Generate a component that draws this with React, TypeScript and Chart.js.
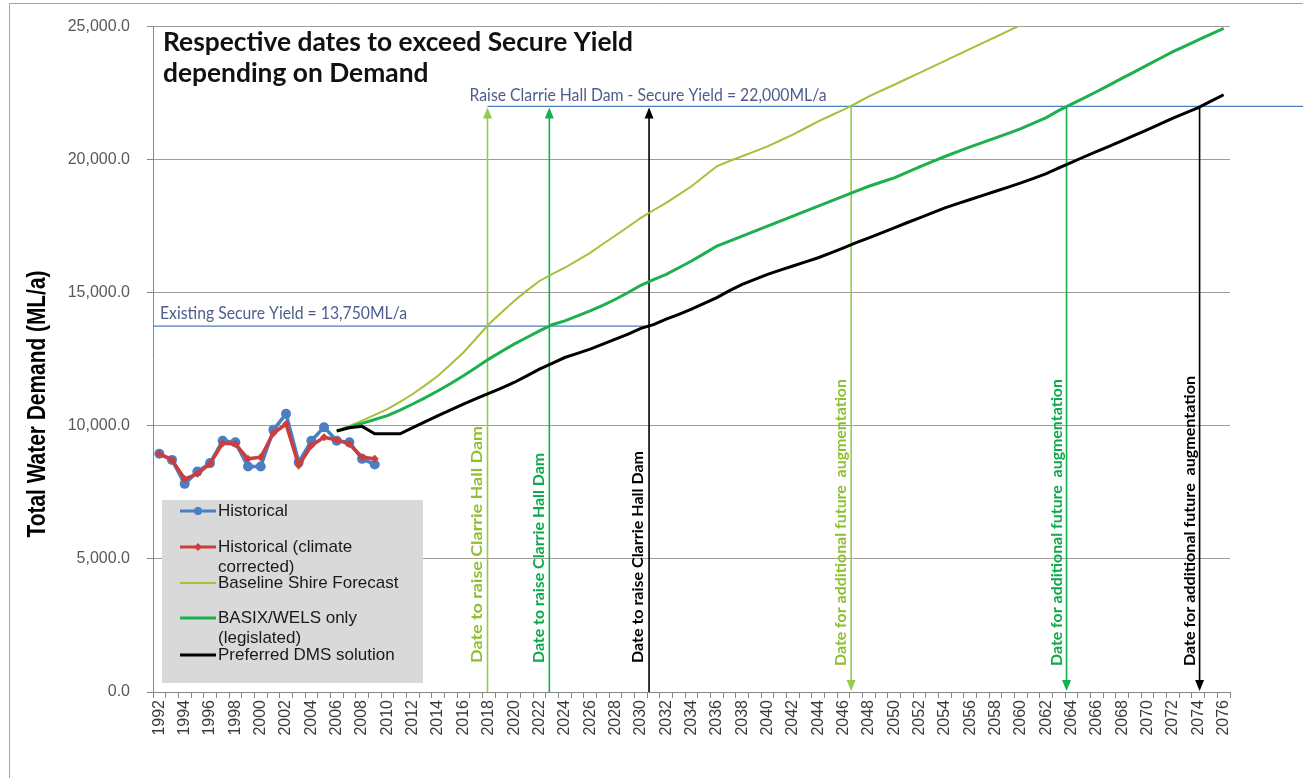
import React, { useEffect, useRef } from 'react';
import { Chart, registerables } from 'chart.js';

Chart.register(...registerables);

// ---------- DATA ----------
const years = [
  '1992','1993','1994','1995','1996','1997','1998','1999','2000','2001',
  '2002','2003','2004','2005','2006','2007','2008','2009','2010','2011',
  '2012','2013','2014','2015','2016','2017','2018','2019','2020','2021',
  '2022','2023','2024','2025','2026','2027','2028','2029','2030','2031',
  '2032','2033','2034','2035','2036','2037','2038','2039','2040','2041',
  '2042','2043','2044','2045','2046','2047','2048','2049','2050','2051',
  '2052','2053','2054','2055','2056','2057','2058','2059','2060','2061',
  '2062','2063','2064','2065','2066','2067','2068','2069','2070','2071',
  '2072','2073','2074','2075','2076'
];

// 1992 - 2009
const historical = [8950, 8720, 7820, 8280, 8600, 9440, 9380, 8470, 8470, 9850, 10450, 8630, 9440, 9950, 9440, 9380, 8760, 8550];
const historicalClimate = [8950, 8720, 8000, 8200, 8570, 9350, 9320, 8760, 8820, 9720, 10070, 8510, 9260, 9570, 9470, 9320, 8820, 8760];

// forecasts start in 2006
const forecastStart = '2006';
const baselineShire = [
  9820, 10000, 10195, 10410, 10630, 10900, 11195, 11530, 11880, 12310,
  12755, 13280, 13818, 14260, 14692, 15080, 15442, 15700, 15940, 16220,
  16500, 16830, 17150, 17480, 17815, 18100, 18377, 18690, 19002, 19380,
  19752, 19950, 20127, 20310, 20502, 20720, 20940, 21190, 21440, 21660,
  21877, 22120, 22375, 22600, 22814, 23040, 23260, 23490, 23710, 23940,
  24160, 24390, 24610, 24840, 25060, 25290
];
const basixWels = [
  9820, 9950, 10094, 10240, 10382, 10590, 10820, 11060, 11319, 11590,
  11880, 12190, 12507, 12790, 13069, 13320, 13568, 13800, 13943, 14130,
  14317, 14530, 14756, 15010, 15280, 15490, 15692, 15940, 16192, 16470,
  16754, 16940, 17128, 17315, 17503, 17690, 17878, 18065, 18253, 18440,
  18628, 18815, 19002, 19160, 19315, 19520, 19730, 19930, 20120, 20300,
  20480, 20650, 20820, 20990, 21170, 21370, 21580, 21850, 22090, 22320,
  22563, 22810, 23062, 23310, 23563, 23810, 24062, 24280, 24500, 24720,
  24935
];
const preferredDms = [
  9800, 9930, 9980, 9700, 9700, 9700, 9930, 10160, 10382, 10600,
  10820, 11020, 11219, 11420, 11630, 11880, 12132, 12350, 12567, 12720,
  12882, 13070, 13257, 13445, 13660, 13800, 14006, 14190, 14381, 14600,
  14816, 15080, 15318, 15500, 15692, 15850, 16004, 16160, 16316, 16500,
  16690, 16880, 17065, 17250, 17440, 17630, 17815, 18000, 18190, 18350,
  18503, 18660, 18815, 18970, 19126, 19300, 19478, 19690, 19900, 20110,
  20314, 20510, 20715, 20920, 21127, 21345, 21563, 21760, 21960, 22200,
  22440
];

const seriesNames = ['Historical', 'Historical (climate corrected)', 'Baseline Shire Forecast', 'BASIX/WELS only (legislated)', 'Preferred DMS solution'];

const yTicks = [0, 5000, 10000, 15000, 20000, 25000];

const secureYields = [13750, 22000];
const secureYieldLabels = ['Existing Secure Yield = 13,750ML/a', 'Raise Clarrie Hall Dam - Secure Yield = 22,000ML/a'];

// dates (fractional years) at which each scenario crosses the secure yields
const raiseDates = [2017.9, 2022.78, 2030.65];
const augmentDates = [2046.6, 2063.6, 2074.1];
const raiseLabel = 'Date to raise Clarrie Hall Dam';
const augmentLabel = 'Date for additional future  augmentation';

const titleLines = ['Respective dates to exceed Secure Yield', 'depending on Demand'];
const yAxisTitle = 'Total Water Demand (ML/a)';

// ---------- STYLE ----------
const C_BLUE = '#4a7fc1';
const C_RED = '#cc3d3d';
const C_YELLOW = '#a3c23a';
const C_GREEN = '#1db04c';
const C_BLACK = '#000000';
const C_ARROW_YELLOW = '#94cc4a';
const C_ARROW_GREEN = '#14b050';
const C_YIELD = '#4f7dc2';
const C_YIELD_TEXT = '#4e5d8c';

const pad = (vals: number[], startLabel: string) => {
  const s = years.indexOf(startLabel);
  return years.map((_, i) => (i >= s && i - s < vals.length ? vals[i - s] : null));
};

const fmt = (v: number) =>
  v.toLocaleString('en-US', { minimumFractionDigits: 1, maximumFractionDigits: 1 });

function fitText(ctx: CanvasRenderingContext2D, text: string, x: number, y: number, width: number, rot: number) {
  ctx.save();
  ctx.translate(x, y);
  ctx.rotate(rot);
  const w = ctx.measureText(text).width;
  ctx.scale(width / w, 1);
  ctx.fillText(text, 0, 0);
  ctx.restore();
}

const overlayPlugin = {
  id: 'overlay',
  beforeDraw(chart: any) {
    const ctx = chart.ctx;
    ctx.save();
    ctx.fillStyle = '#ffffff';
    ctx.fillRect(0, 0, chart.width, chart.height);
    ctx.restore();
  },
  beforeDatasetsDraw(chart: any) {
    const ctx: CanvasRenderingContext2D = chart.ctx;
    const xs = chart.scales.x;
    const ys = chart.scales.y;
    const ca = chart.chartArea;
    const xOf = (yr: number) => xs.getPixelForValue(yr - Number(years[0]));
    const yLow = ys.getPixelForValue(secureYields[0]);
    const yHigh = ys.getPixelForValue(secureYields[1]);

    ctx.save();
    // secure yield lines
    ctx.strokeStyle = C_YIELD;
    ctx.lineWidth = 1.2;
    ctx.beginPath();
    ctx.moveTo(ca.left, yLow);
    ctx.lineTo(xOf(raiseDates[2]), yLow);
    ctx.moveTo(xOf(raiseDates[0]), yHigh);
    ctx.lineTo(chart.width, yHigh);
    ctx.stroke();

    ctx.fillStyle = C_YIELD_TEXT;
    ctx.font = '17px Lato';
    ctx.textBaseline = 'alphabetic';
    ctx.textAlign = 'left';
    fitText(ctx, secureYieldLabels[0], ca.left + 7, yLow - 7, 247, 0);
    fitText(ctx, secureYieldLabels[1], xOf(raiseDates[0]) - 18, yHigh - 5, 357, 0);

    const colors = [C_ARROW_YELLOW, C_ARROW_GREEN, C_BLACK];
    const textColors = ['#8fbf32', '#0fa84a', '#000000'];
    const raiseLens = [237, 210, 212];
    const augLens = [287, 287, 290];

    const arrowHead = (x: number, tipY: number, dir: number, col: string) => {
      ctx.fillStyle = col;
      ctx.beginPath();
      ctx.moveTo(x, tipY);
      ctx.lineTo(x - 4.5, tipY + dir * 11);
      ctx.lineTo(x + 4.5, tipY + dir * 11);
      ctx.closePath();
      ctx.fill();
    };

    // raise arrows (upward)
    raiseDates.forEach((d, i) => {
      const x = xOf(d);
      ctx.strokeStyle = colors[i];
      ctx.lineWidth = 1.6;
      ctx.beginPath();
      ctx.moveTo(x, ca.bottom);
      ctx.lineTo(x, yHigh + 6);
      ctx.stroke();
      arrowHead(x, yHigh + 1, 1, colors[i]);
      ctx.fillStyle = textColors[i];
      ctx.font = 'bold 15px Lato';
      ctx.textBaseline = 'middle';
      fitText(ctx, raiseLabel, x - 10.5, ca.bottom - 29, raiseLens[i], -Math.PI / 2);
    });

    // augmentation arrows (downward)
    augmentDates.forEach((d, i) => {
      const x = xOf(d);
      ctx.strokeStyle = colors[i];
      ctx.lineWidth = 1.6;
      ctx.beginPath();
      ctx.moveTo(x, yHigh);
      ctx.lineTo(x, ca.bottom - 6);
      ctx.stroke();
      arrowHead(x, ca.bottom - 1, -1, colors[i]);
      ctx.fillStyle = textColors[i];
      ctx.font = 'bold 15px Lato';
      ctx.textBaseline = 'middle';
      fitText(ctx, augmentLabel, x - 9.5, ca.bottom - 26, augLens[i], -Math.PI / 2);
    });
    ctx.restore();
  },
  afterDraw(chart: any) {
    const ctx: CanvasRenderingContext2D = chart.ctx;
    const ca = chart.chartArea;
    ctx.save();

    // outer frame
    ctx.strokeStyle = '#8ea6d2';
    ctx.lineWidth = 1;
    ctx.beginPath();
    ctx.moveTo(9.5, chart.height);
    ctx.lineTo(9.5, 3.5);
    ctx.lineTo(chart.width, 3.5);
    ctx.stroke();

    // title
    ctx.fillStyle = '#111111';
    ctx.font = 'bold 26px Lato';
    ctx.textAlign = 'left';
    ctx.textBaseline = 'alphabetic';
    const w0 = ctx.measureText(titleLines[0]).width;
    const sc = 470 / w0;
    titleLines.forEach((t, i) => {
      ctx.save();
      ctx.translate(ca.left + 10, 51 + i * 31);
      ctx.scale(sc, 1);
      ctx.fillText(t, 0, 0);
      ctx.restore();
    });

    // y axis title
    ctx.fillStyle = '#000000';
    ctx.font = 'bold 25px "Liberation Sans"';
    ctx.textAlign = 'center';
    ctx.textBaseline = 'middle';
    ctx.save();
    ctx.translate(38, 404);
    ctx.rotate(-Math.PI / 2);
    const wy = ctx.measureText(yAxisTitle).width;
    ctx.scale(267 / wy, 1);
    ctx.fillText(yAxisTitle, 0, 0);
    ctx.restore();

    // legend
    const lx = 162, ly = 500, lw = 261, lh = 183;
    ctx.fillStyle = '#d9d9d9';
    ctx.fillRect(lx, ly, lw, lh);
    const items = [
      { color: C_BLUE, width: 3, marker: 'circle', lines: ['Historical'], y: 511 },
      { color: C_RED, width: 3, marker: 'diamond', lines: ['Historical (climate', 'corrected)'], y: 547 },
      { color: C_YELLOW, width: 2, marker: '', lines: ['Baseline Shire Forecast'], y: 583 },
      { color: C_GREEN, width: 3, marker: '', lines: ['BASIX/WELS only', '(legislated)'], y: 618 },
      { color: C_BLACK, width: 3, marker: '', lines: ['Preferred DMS solution'], y: 655 },
    ];
    ctx.font = '17px "Liberation Sans"';
    ctx.textAlign = 'left';
    ctx.textBaseline = 'middle';
    items.forEach((it) => {
      ctx.strokeStyle = it.color;
      ctx.lineWidth = it.width;
      ctx.beginPath();
      ctx.moveTo(180, it.y);
      ctx.lineTo(216, it.y);
      ctx.stroke();
      ctx.fillStyle = it.color;
      if (it.marker === 'circle') {
        ctx.beginPath();
        ctx.arc(198, it.y, 4, 0, Math.PI * 2);
        ctx.fill();
      } else if (it.marker === 'diamond') {
        ctx.beginPath();
        ctx.moveTo(198, it.y - 4);
        ctx.lineTo(202, it.y);
        ctx.lineTo(198, it.y + 4);
        ctx.lineTo(194, it.y);
        ctx.closePath();
        ctx.fill();
      }
      ctx.fillStyle = '#1a1a1a';
      it.lines.forEach((t, j) => ctx.fillText(t, 218, it.y + j * 20.5));
    });
    ctx.restore();
  },
};

export default function App() {
  const ref = useRef<HTMLCanvasElement | null>(null);

  useEffect(() => {
    if (!ref.current) return;
    const chart = new Chart(ref.current, {
      type: 'line',
      data: {
        labels: years,
        datasets: [
          {
            label: seriesNames[1],
            data: pad(historicalClimate, years[0]),
            borderColor: C_RED,
            backgroundColor: C_RED,
            borderWidth: 3.5,
            pointStyle: 'rectRot',
            pointRadius: 4,
            pointBorderWidth: 0,
            tension: 0,
          },
          {
            label: seriesNames[0],
            data: pad(historical, years[0]),
            borderColor: C_BLUE,
            backgroundColor: C_BLUE,
            borderWidth: 3.5,
            pointStyle: 'circle',
            pointRadius: 5,
            pointBorderWidth: 0,
            tension: 0,
          },
          {
            label: seriesNames[4],
            data: pad(preferredDms, forecastStart),
            borderColor: C_BLACK,
            borderWidth: 3,
            pointRadius: 0,
            tension: 0,
          },
          {
            label: seriesNames[3],
            data: pad(basixWels, forecastStart),
            borderColor: C_GREEN,
            borderWidth: 3,
            pointRadius: 0,
            tension: 0,
          },
          {
            label: seriesNames[2],
            data: pad(baselineShire, forecastStart),
            borderColor: C_YELLOW,
            borderWidth: 2,
            pointRadius: 0,
            tension: 0,
          },
        ],
      },
      options: {
        animation: false,
        responsive: false,
        maintainAspectRatio: false,
        layout: { padding: { left: 0, right: 73, top: 25, bottom: 0 } },
        plugins: {
          legend: { display: false },
          tooltip: { enabled: false },
          title: { display: false },
        },
        scales: {
          x: {
            type: 'category',
            offset: true,
            grid: {
              display: true,
              drawOnChartArea: false,
              offset: true,
              tickLength: 6,
              color: '#868686',
            },
            border: { color: '#868686', width: 1 },
            ticks: {
              autoSkip: false,
              minRotation: 90,
              maxRotation: 90,
              padding: 2,
              color: '#3a3a3a',
              font: { family: 'Liberation Sans', size: 16 },
              callback: (_v: any, i: number) => (i % 2 === 0 ? years[i] : ''),
            },
            afterFit: (s: any) => {
              s.height = 86;
            },
          },
          y: {
            min: yTicks[0],
            max: yTicks[yTicks.length - 1],
            afterBuildTicks: (s: any) => {
              s.ticks = yTicks.map((v) => ({ value: v }));
            },
            ticks: {
              padding: 17,
              color: '#595959',
              font: { family: 'Liberation Sans', size: 16 },
              callback: (v: any) => fmt(Number(v)),
            },
            grid: {
              color: '#a39a96',
              lineWidth: 1,
              tickLength: 6,
              tickColor: '#868686',
            },
            border: { color: '#868686', width: 1 },
            afterFit: (s: any) => {
              s.width = 153;
            },
          },
        },
      },
      plugins: [overlayPlugin],
    } as any);
    return () => chart.destroy();
  }, []);

  return (
    <div style={{ position: 'absolute', left: 0, top: 0, width: 1303, height: 778, background: '#fff' }}>
      <canvas ref={ref} width={1303} height={778} style={{ width: 1303, height: 778, display: 'block' }} />
    </div>
  );
}
